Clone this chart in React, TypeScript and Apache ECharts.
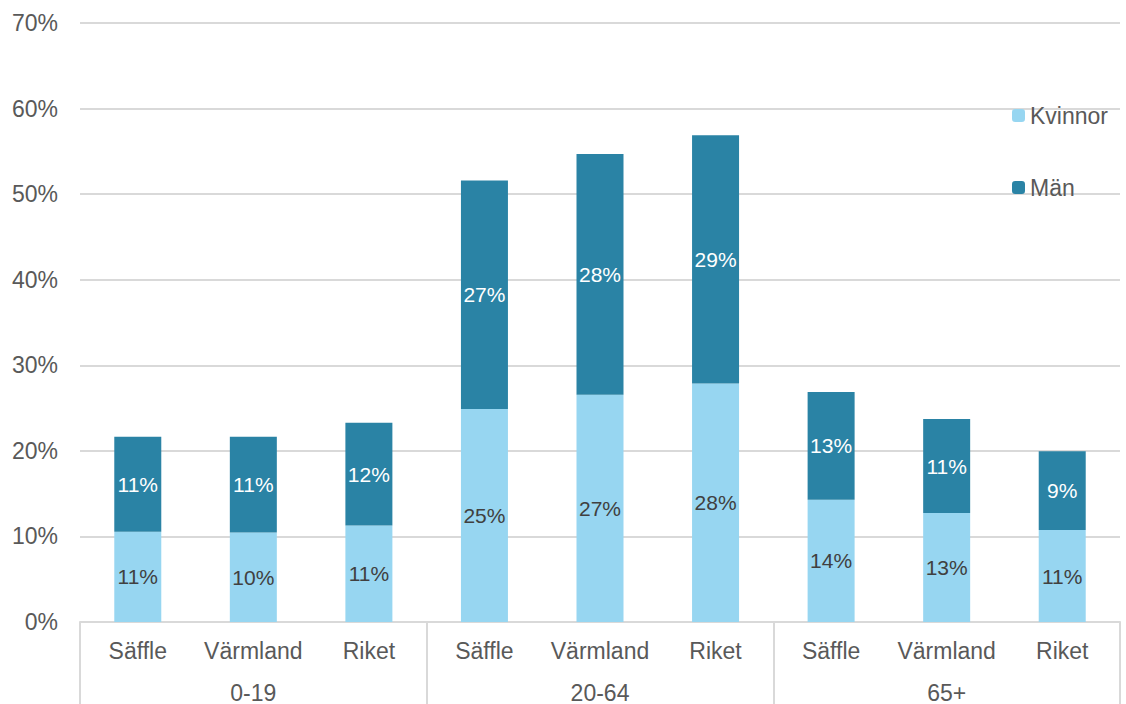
import React, { useEffect, useRef } from "react";
import * as echarts from "echarts";

const categories = ["Säffle", "Värmland", "Riket", "Säffle", "Värmland", "Riket", "Säffle", "Värmland", "Riket"];
const groups = ["0-19", "20-64", "65+"];
const kvinnor = [10.55, 10.45, 11.28, 24.9, 26.55, 27.87, 14.29, 12.73, 10.75];
const man = [11.1, 11.2, 12.0, 26.7, 28.15, 29.0, 12.6, 11.0, 9.2];
const yTicks = [0, 10, 20, 30, 40, 50, 60, 70];

const LIGHT = "#97D6F1";
const DARK = "#2A83A5";
const GRID = "#D9D9D9";
const TEXT = "#595959";
const FONT = "'Liberation Sans', Arial, sans-serif";

export default function App() {
  const ref = useRef<HTMLDivElement>(null);
  useEffect(() => {
    if (!ref.current) return;
    const chart = echarts.init(ref.current, null, { renderer: "svg" });
    const legendBase = {
      orient: "vertical",
      left: 1012,
      padding: 0,
      itemWidth: 13,
      itemHeight: 13,
      itemGap: 4,
      textStyle: { fontSize: 23, color: TEXT, fontFamily: FONT },
    };
    chart.setOption({
      animation: false,
      textStyle: { fontFamily: FONT },
      grid: { left: 80, right: 6, top: 23, bottom: 82, containLabel: false },
      legend: [
        { ...legendBase, data: ["Kvinnor"], top: 104 },
        { ...legendBase, data: ["Män"], top: 176 },
      ],
      xAxis: [
        {
          type: "category",
          data: categories,
          position: "bottom",
          axisLine: { show: true, lineStyle: { color: GRID, width: 2 } },
          axisTick: { show: false },
          axisLabel: { color: TEXT, fontSize: 23, margin: 17, interval: 0, fontFamily: FONT },
        },
        {
          type: "category",
          data: groups,
          position: "bottom",
          axisLine: { show: false },
          axisTick: { show: true, length: 84, lineStyle: { color: GRID, width: 2 } },
          axisLabel: { color: TEXT, fontSize: 23, margin: 59, interval: 0, fontFamily: FONT },
        },
      ],
      yAxis: {
        type: "value",
        min: yTicks[0],
        max: yTicks[yTicks.length - 1],
        interval: 10,
        axisLine: { show: false },
        axisTick: { show: false },
        axisLabel: { color: TEXT, fontSize: 23, margin: 22, formatter: "{value}%", fontFamily: FONT },
        splitLine: { lineStyle: { color: GRID, width: 2 } },
      },
      series: [
        {
          name: "Kvinnor",
          type: "bar",
          stack: "total",
          xAxisIndex: 0,
          data: kvinnor,
          barWidth: 47,
          itemStyle: { color: LIGHT },
          label: {
            show: true,
            position: "inside",
            color: "#404040",
            fontSize: 21,
            fontFamily: FONT,
            formatter: (p: any) => Math.round(p.value) + "%",
          },
        },
        {
          name: "Män",
          type: "bar",
          stack: "total",
          xAxisIndex: 0,
          data: man,
          barWidth: 47,
          itemStyle: { color: DARK },
          label: {
            show: true,
            position: "inside",
            color: "#FFFFFF",
            fontSize: 21,
            fontFamily: FONT,
            formatter: (p: any) => Math.round(p.value) + "%",
          },
        },
      ],
    });
    return () => chart.dispose();
  }, []);
  return (
    <div
      ref={ref}
      style={{ position: "fixed", left: 0, top: 0, width: 1126, height: 704, background: "#fff" }}
    />
  );
}
